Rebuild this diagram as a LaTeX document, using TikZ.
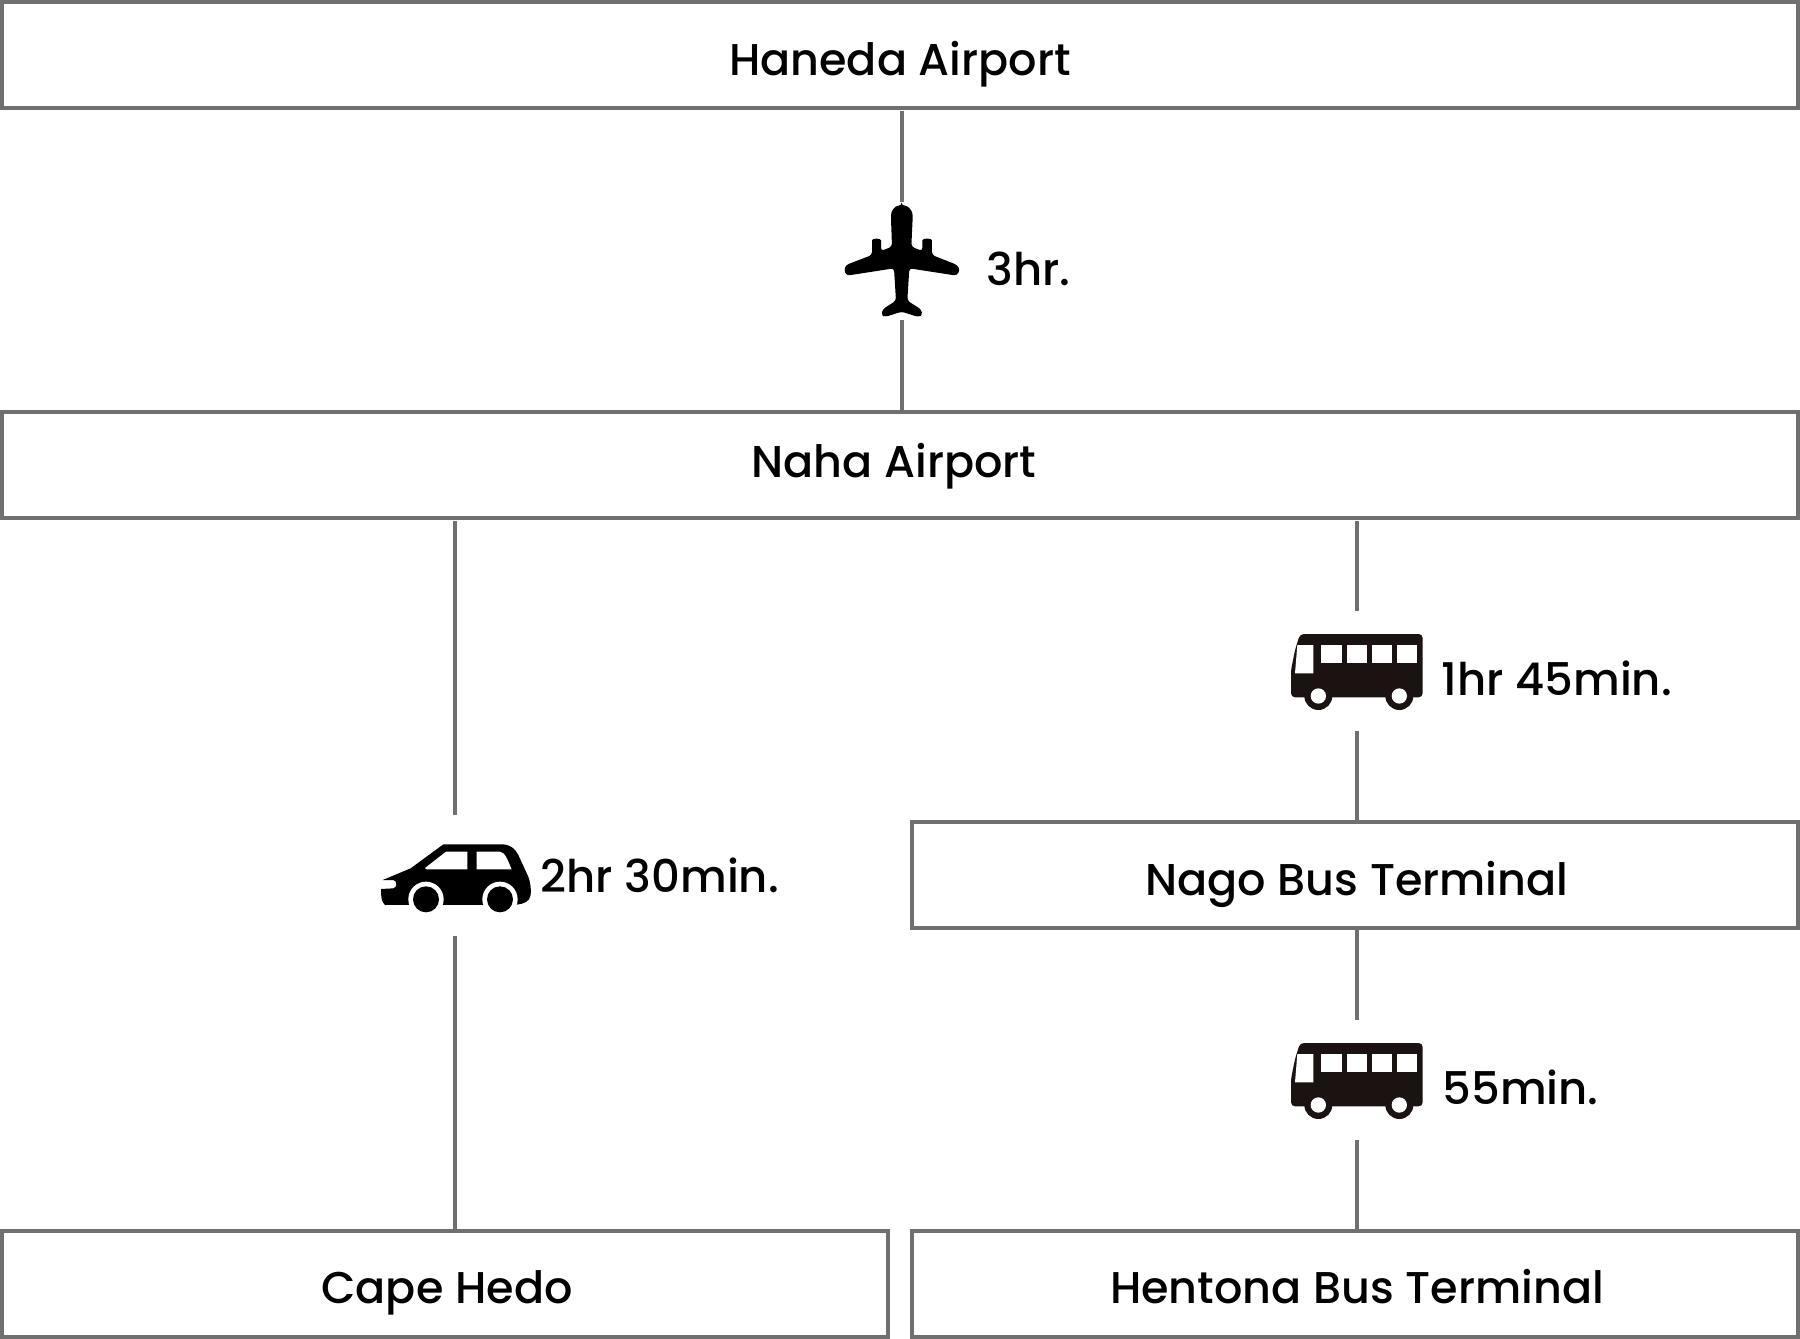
\documentclass[tikz,border=0pt]{standalone}
\usepackage{fontspec}
\setmainfont{Poppins Medium}
\definecolor{routegray}{HTML}{707070}
\definecolor{busblack}{HTML}{1A1311}

\newcommand*{\xmax}{1800}
\newcommand*{\ymax}{1339}

\newcommand*{\planeicon}[2]{
	\begin{scope}[shift={(#1,#2)},x=0.3333pt,y=-0.3333pt]
		\fill[black,rounded corners=3pt] (245,47) .. controls (225,47) and (213,62) .. (213,85) -- (216,170) -- (183,183) -- (183,160) .. controls (183,144) and (156,144) .. (156,160) -- (156,195) -- (78,225) -- (72,240) -- (80,257) -- (222,235) -- (228,332) -- (188,358) -- (184,375) -- (195,381) -- (245,365) -- (295,381) -- (308,375) -- (303,358) -- (262,332) -- (268,235) -- (410,257) -- (420,240) -- (412,225) -- (336,195) -- (336,160) .. controls (336,144) and (307,144) .. (307,160) -- (307,183) -- (274,170) -- (278,85) .. controls (278,62) and (265,47) .. (245,47) -- cycle;
	\end{scope}
}
\newcommand*{\caricon}[2]{
	\begin{scope}[shift={(#1,#2)},x=0.3333pt,y=-0.3333pt]
		\fill[black] (250,73) -- (425,73) .. controls (450,73) and (465,85) .. (475,105) -- (505,170) .. controls (512,190) and (514,210) .. (512,225) .. controls (510,245) and (490,252) .. (470,254) -- (75,255) .. controls (65,245) and (63,235) .. (63,207) -- (100,205) .. controls (112,203) and (112,182) .. (100,180) -- (68,180) -- (152,145) -- cycle;
		\fill[white] (258,95) -- (322,95) -- (322,148) -- (200,148) -- (195,144) -- cycle;
		\fill[white] (350,95) -- (420,95) .. controls (435,95) and (445,125) .. (455,148) -- (350,148) -- cycle;
		\foreach \wheelx in {198,420} {
			\fill[white] (\wheelx,238) circle[radius=53];
			\fill[black] (\wheelx,238) circle[radius=39];
		}
	\end{scope}
}
\newcommand*{\busicon}[2]{
	\begin{scope}[shift={(#1,#2)},x=0.3333pt,y=-0.3333pt]
		\fill[busblack,rounded corners=4pt] (90,42) -- (458,42) -- (458,232) -- (63,232) -- (63,150) -- (75,90) -- cycle;
		\foreach \wheelx in {145,388} {
			\fill[busblack] (\wheelx,228) circle[radius=42];
			\fill[white] (\wheelx,228) circle[radius=23];
		}
		\fill[white] (82,75) -- (130,75) -- (130,160) -- (75,160) -- cycle;
		\foreach \winx/\winw in {152/65,230/62,305/62,380/60} {
			\fill[white] (\winx,75) rectangle ++(\winw,55);
		}
	\end{scope}
}

\begin{document}
\begin{tikzpicture}
[
	x=1pt,y=-1pt,
	placebox/.style={draw=routegray,line width=4pt,anchor=north west,inner sep=0pt,minimum height=106pt},
	placetext/.style={anchor=base,font=\fontsize{44.5}{52}\selectfont},
	timetext/.style={anchor=base west,font=\fontsize{45}{52}\selectfont},
	route/.style={draw=routegray,line width=4pt},
	routedown/.style={route,shorten <=1pt}
]
	\useasboundingbox (0,0) rectangle (\xmax,\ymax);

	% stops
	\node[placebox,minimum width=1796pt] (haneda) at (0,0) {};
	\node[placebox,minimum width=1796pt] (naha) at (0,410) {};
	\node[placebox,minimum width=886pt] (nago) at (910,820) {};
	\node[placebox,minimum width=886pt] (hedo) at (0,1229) {};
	\node[placebox,minimum width=886pt] (hentona) at (910,1229) {};

	\node[placetext] (hanedatext) at (900,75) {Haneda Airport};
	\node[placetext] (nahatext) at (894,477) {Naha Airport};
	\node[placetext] (nagotext) at (1357,895) {Nago Bus Terminal};
	\node[placetext] (hedotext) at (447,1303) {Cape Hedo};
	\node[placetext] (hentonatext) at (1357,1303) {Hentona Bus Terminal};

	% ends of the lines next to the icons
	\coordinate (plane1) at (902,202);
	\coordinate (plane2) at (902,320);
	\coordinate (car1) at (455,815);
	\coordinate (car2) at (455,936);
	\coordinate (busa1) at (1357,611);
	\coordinate (busa2) at (1357,731);
	\coordinate (busb1) at (1357,1020);
	\coordinate (busb2) at (1357,1140);

	\draw[routedown] (haneda.south -| plane1) -- (plane1);
	\draw[route] (plane2) -- (naha.north -| plane2);
	\draw[routedown] (naha.south -| car1) -- (car1);
	\draw[route] (car2) -- (hedo.north -| car2);
	\draw[routedown] (naha.south -| busa1) -- (busa1);
	\draw[route] (busa2) -- (nago.north -| busa2);
	\draw[route] (nago.south -| busb1) -- (busb1);
	\draw[route] (busb2) -- (hentona.north -| busb2);

	% icons
	\planeicon{820}{190}
	\caricon{360}{820}
	\busicon{1270}{620}
	\busicon{1270}{1029}

	% times
	\node[timetext] (planetime) at (983,285) {3hr.};
	\node[timetext] (cartime) at (537,892) {2hr 30min.};
	\node[timetext] (busatime) at (1438,695) {1hr 45min.};
	\node[timetext] (busbtime) at (1439,1104) {55min.};

\end{tikzpicture}
\end{document}
